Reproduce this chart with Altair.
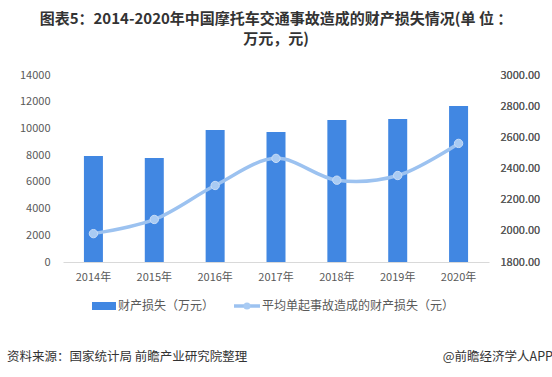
import altair as alt
import pandas as pd

years = ["2014年", "2015年", "2016年", "2017年", "2018年", "2019年", "2020年"]
loss_wan = [7940, 7790, 9880, 9730, 10630, 10710, 11680]
avg_loss = [1982, 2073, 2291, 2465, 2325, 2355, 2561]

title1 = "图表5：2014-2020年中国摩托车交通事故造成的财产损失情况(单 位 ："
title2 = "万元，元)"
legend_bar = "财产损失（万元）"
legend_line = "平均单起事故造成的财产损失（元）"
source_left = "资料来源：国家统计局 前瞻产业研究院整理"
source_right = "@前瞻经济学人APP"

df = pd.DataFrame({"year": years, "loss": loss_wan, "avg": avg_loss})

FONT = "Noto Sans CJK SC"
BAR = "#4187E2"
LINE = "#9CC2F0"
LAB = "#595959"

xenc = alt.X("year:N", sort=years, title=None,
             scale=alt.Scale(paddingInner=0.1, paddingOuter=0.05),
             axis=alt.Axis(labelAngle=0, labelFont=FONT, labelFontSize=11, labelColor=LAB,
                           domainColor="#D9D9D9", ticks=False, labelPadding=9, grid=False))

bars = alt.Chart(df).mark_bar(size=19, color=BAR).encode(
    x=xenc,
    y=alt.Y("loss:Q", title=None,
            scale=alt.Scale(domain=[0, 14000], nice=False),
            axis=alt.Axis(values=list(range(0, 14001, 2000)), format="d", labelFont=FONT,
                          labelFontSize=11, labelColor=LAB, domain=False, ticks=False,
                          grid=False, labelPadding=13)),
)

line_y = alt.Y("avg:Q", title=None,
               scale=alt.Scale(domain=[1800, 3000], nice=False),
               axis=alt.Axis(orient="right", values=list(range(1800, 3001, 200)), format=".2f",
                             labelFont=FONT, labelFontSize=11, labelColor=LAB, domain=False,
                             ticks=False, grid=False, labelPadding=11))

line = alt.Chart(df).mark_line(interpolate="catmull-rom", color=LINE, strokeWidth=3.5).encode(
    x=alt.X("year:N", sort=years, bandPosition=0.5),
    y=line_y,
)
pts = alt.Chart(df).mark_point(filled=True, size=70, color="#A9CBF3", opacity=1,
                               stroke="#C9DDF7", strokeWidth=1).encode(
    x=alt.X("year:N", sort=years, bandPosition=0.5),
    y=line_y,
)

one = pd.DataFrame({"k": [0]})
base = alt.Chart(one)


def txt(s, x, y, size, color, weight="normal", align="left"):
    return base.mark_text(text=s, font=FONT, fontSize=size, color=color, fontWeight=weight,
                          align=align, baseline="middle").encode(x=alt.value(x), y=alt.value(y))


t1 = txt(title1, 213, -56, 15, "#333333", "bold", "center")
t2 = txt(title2, 213, -36, 15, "#333333", "bold", "center")

leg_rect = base.mark_rect(color=BAR).encode(x=alt.value(29), x2=alt.value(53),
                                             y=alt.value(227), y2=alt.value(235))
leg_t1 = txt(legend_bar, 55, 231, 12, LAB)
leg_rule = base.mark_rule(color=LINE, strokeWidth=3.5).encode(x=alt.value(171), x2=alt.value(197),
                                                               y=alt.value(231))
leg_pt = base.mark_point(filled=True, size=50, color="#A9CBF3", opacity=1).encode(
    x=alt.value(184), y=alt.value(231))
leg_t2 = txt(legend_line, 199, 231, 12, LAB)

src_l = txt(source_left, -56, 282, 12.5, "#333333")
src_r = txt(source_right, 490, 282, 12.5, "#333333", align="right")

chart = alt.layer(bars, line, pts, t1, t2, leg_rect, leg_t1, leg_rule, leg_pt, leg_t2,
                  src_l, src_r).resolve_scale(y="independent").properties(
    width=426, height=187,
    padding={"left": 63, "top": 75, "right": 63, "bottom": 115},
    autosize=alt.AutoSizeParams(type="none"),
    background="white",
).configure_view(stroke=None)

chart.save("out.html", embed_options={"renderer": "svg", "actions": False})
